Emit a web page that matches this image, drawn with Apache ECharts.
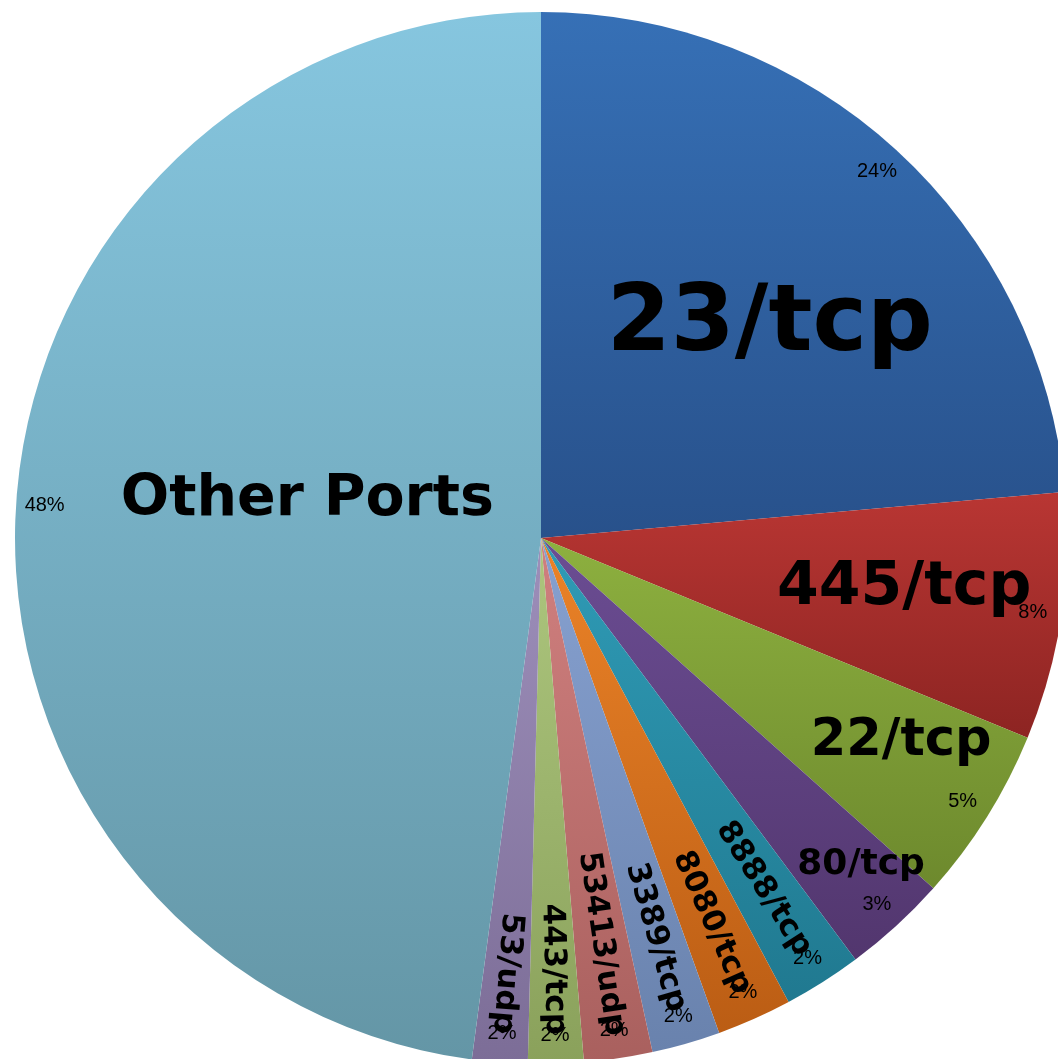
<!DOCTYPE html>
<html><head><meta charset="utf-8">
<script src="https://cdn.jsdelivr.net/npm/echarts@6/dist/echarts.min.js"></script>
<style>html,body{margin:0;padding:0;background:#fff}#c{width:1058px;height:1059px}</style>
</head><body><div id="c"></div>
<script>
// ---- data ----
const categories = ['23/tcp','445/tcp','22/tcp','80/tcp','8888/tcp','8080/tcp','3389/tcp','53413/udp','443/tcp','53/udp','Other Ports'];
const shares = [23.6, 7.6, 5.4, 3.2, 2.4, 2.3, 2.1, 2.1, 1.7, 1.7, 47.9];

// ---- styles ----
const colorsTop    = ['#3670B6','#B93633','#8DB03F','#6B4D93','#2F9BB6','#EB8328','#87A1D0','#D0807F','#ADC67E','#9D8FBA','#86C6DF'];
const colorsBottom = ['#28518B','#8D2422','#6D892D','#52366E','#207990','#BB5D14','#6982AD','#A9605E','#8AA15B','#7C6D97','#6496A6'];
const nameFont    = [92, 60, 51, 36, 31, 31, 31, 31, 31, 31, 57];
const nameRadius  = [0.593, 0.697, 0.787, 0.87, 0.79, 0.80, 0.79, 0.78, 0.82, 0.83, 0.45];
const nameShift   = [4.7, -0.8, -2.5, -1.9, 0, 0, 0, 0, 0, 0, 5.4];
const nameRotated = [false,false,false,false,true,true,true,true,true,true,false];
const CX = 541, CY = 538, R = 526;

const total = shares.reduce((a, b) => a + b, 0);
function midAngle(i) {
  let cum = 0;
  for (let k = 0; k < i; k++) cum += shares[k];
  return 2 * Math.PI * (cum + shares[i] / 2) / total;
}

const nameData = categories.map((c, i) => ({
  name: c,
  value: shares[i],
  itemStyle: {
    color: {type: 'linear', x: 0, y: 0, x2: 0, y2: 1,
      colorStops: [{offset: 0, color: colorsTop[i]}, {offset: 1, color: colorsBottom[i]}]}
  },
  label: {fontSize: nameFont[i]}
}));
const pctData = categories.map((c, i) => ({name: c, value: shares[i]}));

const chart = echarts.init(document.getElementById('c'), null, {renderer: 'canvas'});
chart.setOption({
  animation: false,
  backgroundColor: '#ffffff',
  series: [
    {
      type: 'pie',
      center: [CX, CY],
      radius: [0, R],
      startAngle: 90,
      clockwise: true,
      avoidLabelOverlap: false,
      silent: true,
      data: nameData,
      itemStyle: {borderWidth: 0},
      label: {
        show: true,
        position: 'inside',
        formatter: '{b}',
        color: '#000',
        fontWeight: 'bold',
        fontFamily: 'DejaVu Sans',
        textBorderWidth: 0
      },
      labelLine: {show: false},
      labelLayout: function (p) {
        const i = p.dataIndex;
        const th = midAngle(i) + nameShift[i] * Math.PI / 180;
        const rr = R * nameRadius[i];
        const out = {x: CX + rr * Math.sin(th), y: CY - rr * Math.cos(th)};
        if (nameRotated[i]) out.rotate = 90 - th * 180 / Math.PI;
        return out;
      }
    },
    {
      type: 'pie',
      center: [CX, CY],
      radius: [R * 0.88, R],
      startAngle: 90,
      clockwise: true,
      avoidLabelOverlap: false,
      silent: true,
      data: pctData,
      itemStyle: {color: 'rgba(0,0,0,0)', borderWidth: 0},
      label: {
        show: true,
        position: 'inside',
        formatter: p => Math.round(p.percent) + '%',
        color: '#000',
        fontSize: 20,
        fontFamily: 'Liberation Sans',
        textBorderWidth: 0
      },
      labelLine: {show: false}
    }
  ]
});
</script>
</body></html>
